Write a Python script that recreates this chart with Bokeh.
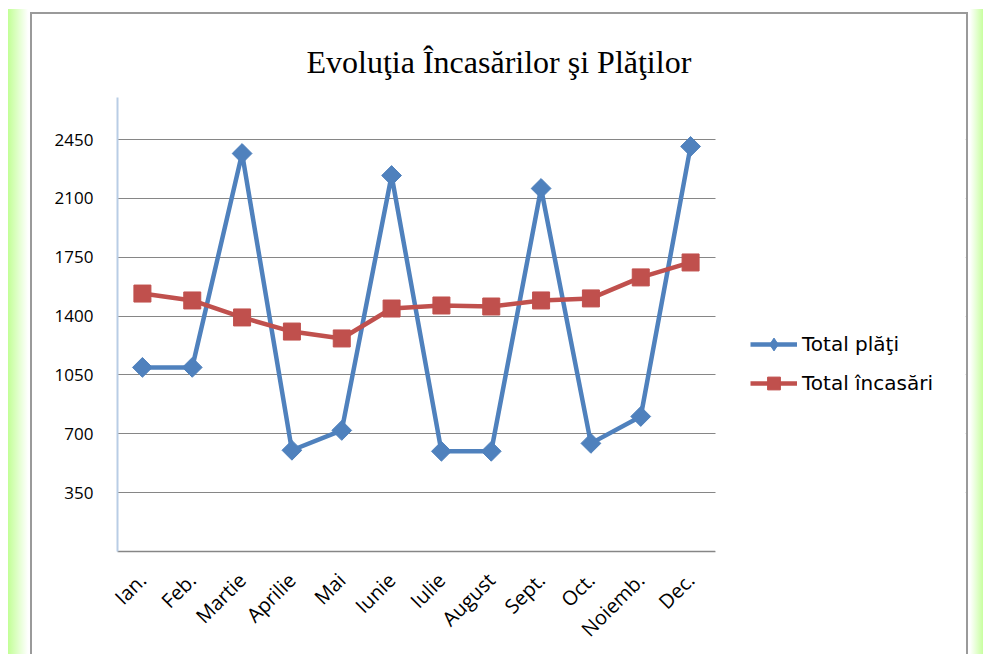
import numpy as np
from bokeh.plotting import figure
from bokeh.models import (FixedTicker, Legend, LegendItem, BoxAnnotation,
                          Range1d, ColumnDataSource)
from bokeh.embed import file_html
from bokeh.resources import INLINE

months = ["Ian.", "Feb.", "Martie", "Aprilie", "Mai", "Iunie", "Iulie",
          "August", "Sept.", "Oct.", "Noiemb.", "Dec."]
total_plati = [1095, 1095, 2367, 602, 720, 2236, 596, 596, 2159, 643, 803, 2409]
total_incasari = [1534, 1493, 1392, 1308, 1267, 1445, 1463, 1457, 1493, 1505, 1630, 1719]
y_ticks = [350, 700, 1050, 1400, 1750, 2100, 2450]

title_text = "Evoluţia Încasărilor şi Plăţilor"
label_plati = "Total plăţi"
label_incasari = "Total încasări"

BLUE = "#4f81bd"
RED = "#c0504d"

idx = list(range(len(months)))
src = ColumnDataSource(dict(x=idx, plati=total_plati, inc=total_incasari))

# frame spans the chart area; categories occupy the left 12 slots,
# the legend sits in the remaining space to the right
n = len(months)
x_end = -0.5 + n * (965 - 117) / 598.0

p = figure(width=983, height=654,
           x_range=Range1d(-0.5, x_end), y_range=Range1d(0, 2700),
           output_backend="svg", toolbar_location=None,
           min_border_left=117, min_border_right=18,
           min_border_top=97, min_border_bottom=103,
           title=title_text)
p.outline_line_color = None
p.background_fill_color = None
p.border_fill_color = None

# page strips and chart-area frame drawn as the figure's host background
p.styles = {
    "background-color": "white",
    "background-image": ("linear-gradient(#9a9a9a,#9a9a9a), "
                         "linear-gradient(#9a9a9a,#9a9a9a), "
                         "linear-gradient(#9a9a9a,#9a9a9a), "
                         "linear-gradient(to right, #c2ff96, #ffffff), "
                         "linear-gradient(to right, #ffffff, #c8ffa0)"),
    "background-position": "30px 12px, 30px 12px, 966px 12px, 8px 9px, 970px 9px",
    "background-size": "2px 660px, 938px 2px, 2px 660px, 20px 660px, 13px 660px",
    "background-repeat": "no-repeat",
}

# title
p.title.text_font = "Liberation Serif"
p.title.text_font_size = "32px"
p.title.text_font_style = "normal"
p.title.text_color = "#000000"
p.title.align = "left"
p.title.offset = 189
p.title.standoff = 36

# axes
p.yaxis.ticker = FixedTicker(ticks=y_ticks)
p.yaxis.major_tick_line_color = None
p.yaxis.minor_tick_line_color = None
p.yaxis.axis_line_color = "#b9cde5"
p.yaxis.axis_line_width = 2
p.yaxis.major_label_text_font = "Open Sans"
p.yaxis.major_label_text_font_size = "17px"
p.yaxis.major_label_text_color = "#000000"
p.yaxis.major_label_standoff = 18

p.xaxis.ticker = FixedTicker(ticks=idx)
p.xaxis.major_label_overrides = {i: m for i, m in zip(idx, months)}
p.xaxis.bounds = (-0.5, n - 0.5)
p.xaxis.major_tick_line_color = None
p.xaxis.minor_tick_line_color = None
p.xaxis.axis_line_color = "#868686"
p.xaxis.axis_line_width = 1.5
p.xaxis.major_label_orientation = np.pi / 4
p.xaxis.major_label_text_font = "Open Sans"
p.xaxis.major_label_text_font_size = "20px"
p.xaxis.major_label_text_color = "#000000"
p.xaxis.major_label_standoff = 19

p.xgrid.grid_line_color = None
p.ygrid.ticker = FixedTicker(ticks=y_ticks)
p.ygrid.grid_line_color = "#868686"
p.ygrid.grid_line_width = 1

# series
l1 = p.line("x", "plati", source=src, line_color=BLUE, line_width=4.5)
# small diamond hidden under the rotated-square markers; used as legend key
s1_key = p.scatter("x", "plati", source=src, marker="diamond", size=10,
                   fill_color=BLUE, line_color=BLUE)
s1 = p.scatter("x", "plati", source=src, marker="square", angle=np.pi / 4,
               size=14, fill_color=BLUE, line_color=BLUE)
l2 = p.line("x", "inc", source=src, line_color=RED, line_width=4.5)
s2 = p.scatter("x", "inc", source=src, marker="square", size=17,
               fill_color=RED, line_color=RED)

# blank the legend area (grid lines stop at the last category)
p.add_layout(BoxAnnotation(left=n - 0.5, fill_color="white", fill_alpha=1,
                           line_color=None))

legend = Legend(items=[LegendItem(label=label_plati, renderers=[l1, s1_key]),
                       LegendItem(label=label_incasari, renderers=[l2, s2])],
                location=(633, 152), padding=0, margin=0,
                border_line_color=None, background_fill_alpha=0,
                glyph_width=47, glyph_height=32, spacing=7,
                label_standoff=5, label_text_font="DejaVu Sans",
                label_text_font_size="20px", label_text_color="#000000")
p.add_layout(legend)

open("out.html", "w").write(file_html(p, INLINE))
